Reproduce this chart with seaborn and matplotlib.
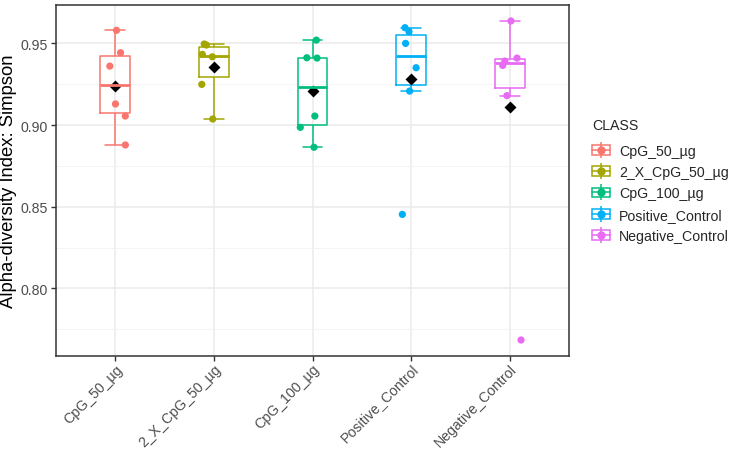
import numpy as np
import pandas as pd
import matplotlib.pyplot as plt
import matplotlib.transforms as mtrans
import seaborn as sns
from matplotlib.patches import Rectangle
from matplotlib.lines import Line2D
from matplotlib.legend_handler import HandlerTuple

# 各組的 Simpson 指數
classes = ['CpG_50_µg', '2_X_CpG_50_µg', 'CpG_100_µg', 'Positive_Control', 'Negative_Control']
cpg_50 = [0.9580, 0.9443, 0.9361, 0.9129, 0.9055, 0.8878]
x2_cpg_50 = [0.9496, 0.9490, 0.9433, 0.9418, 0.9249, 0.9037]
cpg_100 = [0.9520, 0.9412, 0.9410, 0.9055, 0.8986, 0.8864]
positive = [0.9596, 0.9572, 0.9500, 0.9351, 0.9208, 0.8453]
negative = [0.9637, 0.9410, 0.9392, 0.9365, 0.9180, 0.7684]
colors = ['#F8766D', '#A3A500', '#00BF7D', '#00B0F6', '#E76BF3']

values = [cpg_50, x2_cpg_50, cpg_100, positive, negative]
df = pd.DataFrame({
    'CLASS': np.repeat(classes, [len(v) for v in values]),
    'Simpson': np.concatenate(values),
})
palette = dict(zip(classes, colors))

sns.set_style('white')
plt.rcParams['font.family'] = ['Liberation Sans', 'DejaVu Sans']

fig = plt.figure(figsize=(7.33, 4.52), dpi=100)
ax = fig.add_axes([56 / 733, 1 - 357 / 452, 513 / 733, 351 / 452])

sns.boxplot(data=df, x='CLASS', y='Simpson', hue='CLASS', order=classes, hue_order=classes,
            palette=palette, fill=False, width=0.3, linewidth=1.1, showfliers=False,
            whis=1.5, legend=False, dodge=False, capwidths=0.2,
            medianprops=dict(linewidth=2.0), ax=ax)

np.random.seed(3)
sns.stripplot(data=df, x='CLASS', y='Simpson', hue='CLASS', order=classes, hue_order=classes,
              palette=palette, jitter=0.13, size=5.2, linewidth=0, legend=False, ax=ax)

sns.pointplot(data=df, x='CLASS', y='Simpson', order=classes, estimator='mean', errorbar=None,
              linestyle='none', marker='D', color='black', markersize=4.5, ax=ax)

ax.set_xlim(-0.6, 4.6)
ax.set_ylim(0.7586, 0.9735)
ax.set_yticks([0.80, 0.85, 0.90, 0.95])
ax.set_yticks([0.775, 0.825, 0.875, 0.925], minor=True)
ax.grid(True, which='major', color='#EBEBEB', linewidth=1.1)
ax.grid(True, which='minor', axis='y', color='#F2F2F2', linewidth=0.6)
ax.set_axisbelow(True)
for s in ax.spines.values():
    s.set_color('#333333')
    s.set_linewidth(1.1)

ax.tick_params(axis='both', which='major', length=3.5, width=1, color='#333333',
               labelcolor='#4D4D4D', labelsize=10.2, left=True, bottom=True, pad=2.5)
ax.tick_params(axis='y', which='minor', length=0)
ax.set_xticks(range(len(classes)))
ax.set_xticklabels(classes, rotation=45, ha='right', rotation_mode='anchor')
shift = mtrans.ScaledTranslation(0, 3 / 100, fig.dpi_scale_trans)
for lab in ax.get_xticklabels():
    lab.set_transform(lab.get_transform() + shift)
ax.set_xlabel('')
ax.set_ylabel('Alpha-diversity Index: Simpson', fontsize=13.3, color='black')
ax.yaxis.set_label_coords(-0.076, 0.5)

# 圖例
handles = []
for c in colors:
    box = Rectangle((0, 0), 1, 1, facecolor='none', edgecolor=c, linewidth=1.1)
    mid = Line2D([], [], color=c, marker='o', markersize=5, linewidth=1.1)
    vline = Line2D([], [], color=c, marker='|', markersize=11, markeredgewidth=1.1, linestyle='none')
    handles.append((box, mid, vline))
leg = fig.legend(handles, classes, title='CLASS', loc='upper left',
                 bbox_to_anchor=(581 / 733, 1 - 108 / 452), frameon=False, borderpad=0.8,
                 handler_map={tuple: HandlerTuple(ndivide=1)}, fontsize=10.2,
                 title_fontsize=10.2, handlelength=1.27, handleheight=0.7,
                 labelspacing=0.52, handletextpad=0.63, alignment='left', borderaxespad=0)
leg._legend_box.sep = 8.2  # 標題與項目之間多留一點距離

fig.savefig('out.png', dpi=100)
